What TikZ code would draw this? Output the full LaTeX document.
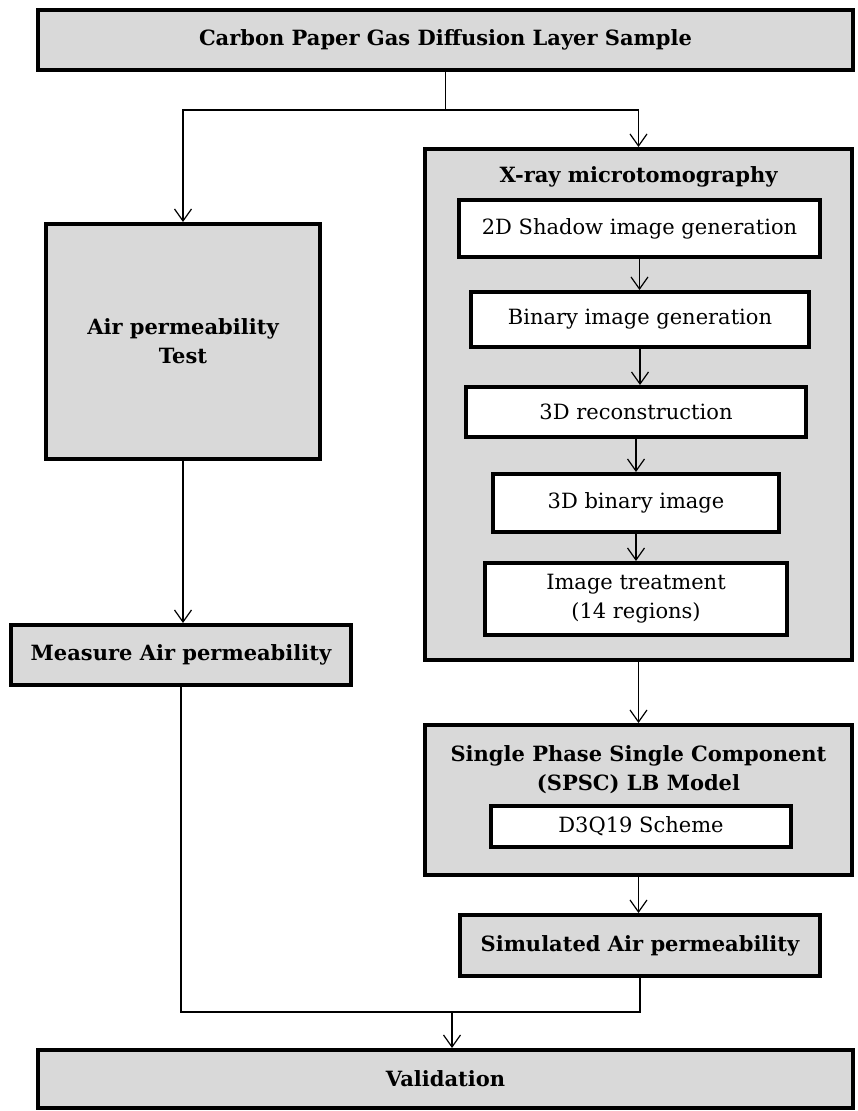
\documentclass[tikz,border=0pt]{standalone}
\usepackage{fontspec}
\setmainfont{DejaVu Serif}
\usetikzlibrary{arrows.meta,positioning,calc}
\definecolor{boxgray}{HTML}{D9D9D9}
\definecolor{inkblack}{HTML}{000000}
\tikzset{
  stage/.style={draw=inkblack, fill=boxgray, line width=4pt, align=center,
    inner sep=2pt, font=\fontsize{21}{29}\selectfont\bfseries},
  substage/.style={stage, fill=white, font=\fontsize{21}{29}\selectfont},
  head/.style={align=center, inner sep=0pt, font=\fontsize{21}{29}\selectfont\bfseries},
  link/.style={-{Straight Barb[length=12pt,width=17pt,line width=1.2pt]},
    line width=1.2pt, color=inkblack},
  wire/.style={line width=1.2pt, color=inkblack},
}
\begin{document}
\begin{tikzpicture}[x=1pt,y=-1pt]
  \useasboundingbox (0,0) rectangle (858,1111);
  % sample on top, validation at the bottom
  \node[stage, minimum width=815pt, minimum height=60pt] (sample) at (445.5,40)
      {Carbon Paper Gas Diffusion Layer Sample};
  \node[stage, minimum width=815pt, minimum height=58pt] (valid) at (445.5,1079)
      {Validation};
  % measured branch
  \node[stage, minimum width=274pt, minimum height=235pt] (airtest) at (183,341.5)
      {Air permeability\\Test};
  \node[stage, minimum width=340pt, minimum height=60pt] (measure) at (181,655)
      {Measure Air permeability};
  % x-ray branch
  \node[stage, minimum width=427pt, minimum height=511pt] (xray) at (638.5,404.5) {};
  \node[head] (xraytitle) at (638.5,177) {X-ray microtomography};
  \node[substage, minimum width=361pt, minimum height=57pt] (shadow) at (639.5,228.5)
      {2D Shadow image generation};
  \node[substage, minimum width=338pt, minimum height=55pt] (binimg) at (640,319.5)
      {Binary image generation};
  \node[substage, minimum width=340pt, minimum height=50pt] (recon) at (636,412)
      {3D reconstruction};
  \node[substage, minimum width=286pt, minimum height=58pt] (bin3d) at (636,503)
      {3D binary image};
  \node[substage, minimum width=302pt, minimum height=72pt] (treat) at (636,599)
      {Image treatment\\(14 regions)};
  % lattice boltzmann model
  \node[stage, minimum width=427pt, minimum height=150pt] (spsc) at (638.5,800) {};
  \node[head] (spsctitle) at (638.5,770)
      {Single Phase Single Component\\(SPSC) LB Model};
  \node[substage, minimum width=300pt, minimum height=41pt] (d3q19) at (641,826.5)
      {D3Q19 Scheme};
  \node[stage, minimum width=360pt, minimum height=61pt] (simperm) at (640,945.5)
      {Simulated Air permeability};
  % connectors
  \coordinate (split) at (445.5,110);
  \coordinate (merge) at (452,1012);
  \draw[wire] (sample.south) -- (split);
  \draw[link] (split) -| (airtest.north);
  \draw[link] (split) -| (xray.north);
  \draw[link] (airtest.south) -- (airtest.south |- measure.north);
  \foreach \a/\b in {shadow/binimg, binimg/recon, recon/bin3d, bin3d/treat,
      xray/spsc, spsc/simperm} {
    \draw[link] (\a.south) -- (\a.south |- \b.north);
  }
  \draw[wire] (measure.south) |- (merge);
  \draw[wire] (simperm.south) |- (merge);
  \draw[link] (merge) -- (merge |- valid.north);
\end{tikzpicture}
\end{document}
